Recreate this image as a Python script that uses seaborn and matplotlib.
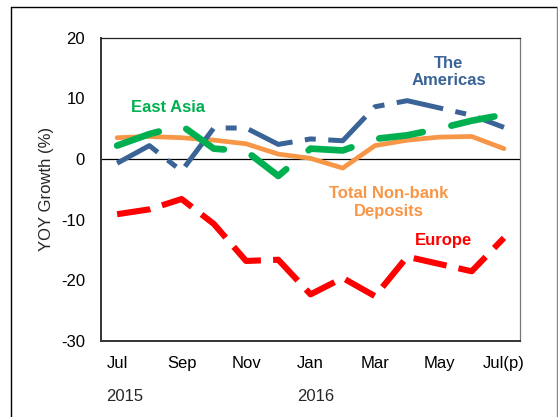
import numpy as np
import pandas as pd
import seaborn as sns
import matplotlib.pyplot as plt
from matplotlib.lines import Line2D

# Monthly YOY growth (%) by region, Jul 2015 - Jul 2016
months = ['Jul', 'Aug', 'Sep', 'Oct', 'Nov', 'Dec', 'Jan', 'Feb', 'Mar', 'Apr', 'May', 'Jun', 'Jul(p)']
total = [3.5, 3.7, 3.5, 3.1, 2.5, 0.8, 0.1, -1.5, 2.2, 3.1, 3.6, 3.7, 1.7]
americas = [-0.7, 2.2, -2.0, 5.1, 5.1, 2.4, 3.3, 3.0, 8.6, 9.6, 8.4, 7.2, 5.2]
east_asia = [2.2, 4.1, 5.5, 1.7, 1.3, -2.8, 1.7, 1.4, 3.3, 3.9, 5.0, 6.3, 7.3]
europe = [-9.1, -8.3, -6.6, -10.7, -16.8, -16.6, -22.3, -19.6, -22.6, -16.1, -17.3, -18.5, -13.0]
years = {'Jul': '2015', 'Jan': '2016'}

df = pd.DataFrame({'t': np.arange(len(months)), 'total': total, 'americas': americas,
                   'east_asia': east_asia, 'europe': europe})

sns.set_style('white')
plt.rcParams['font.family'] = ['Liberation Sans', 'DejaVu Sans']
plt.rcParams['axes.unicode_minus'] = False

fig = plt.figure(figsize=(5.58, 4.17), dpi=100)
ax = fig.add_axes([0.181, 0.182, 0.751, 0.728])

ax.axhline(0, color='black', lw=0.9, zorder=1)

sns.lineplot(data=df, x='t', y='total', ax=ax, color='#F79646', lw=3.4, zorder=2)
sns.lineplot(data=df, x='t', y='americas', ax=ax, color='#3A6397', lw=3.6,
             linestyle=(0, (9.5, 2.5, 2.2, 2.5)), zorder=3)
sns.lineplot(data=df, x='t', y='east_asia', ax=ax, color='#00B050', lw=4.8,
             linestyle=(0, (6.6, 4.4)), dash_capstyle='round', zorder=4)
sns.lineplot(data=df, x='t', y='europe', ax=ax, color='#FF0000', lw=4.4,
             linestyle=(0, (5.5, 2.0)), zorder=5)

ax.set_xlim(-0.5, 12.5)
ax.set_ylim(-30, 20)
ax.set_yticks([-30, -20, -10, 0, 10, 20])
ax.set_xticks(range(len(months)))
ax.set_xticklabels([m if i % 2 == 0 else '' for i, m in enumerate(months)])
ax.set_xlabel('')
ax.set_ylabel('')
ax.tick_params(axis='both', direction='inout', length=7, width=1, color='#333333',
               labelsize=12, labelcolor='black')
ax.tick_params(axis='y', pad=8)
ax.tick_params(axis='x', pad=7)

for side in ['left', 'bottom']:
    ax.spines[side].set_color('#333333')
    ax.spines[side].set_linewidth(1.4)
ax.spines['top'].set_color('#222222')
ax.spines['top'].set_linewidth(0.9)
ax.spines['right'].set_color('#777777')
ax.spines['right'].set_linewidth(0.9)

# series labels
ax.text(1.59, 8.5, 'East Asia', color='#00B050', fontsize=12, fontweight='bold',
        ha='center', va='center')
ax.text(10.29, 14.3, 'The\nAmericas', color='#3A6397', fontsize=12, fontweight='bold',
        ha='center', va='center')
ax.text(8.43, -7.2, 'Total Non-bank\nDeposits', color='#F79646', fontsize=12,
        fontweight='bold', ha='center', va='center')
ax.text(10.13, -13.4, 'Europe', color='#FF0000', fontsize=12, fontweight='bold',
        ha='center', va='center')

fig.text(46 / 558, 1 - 189 / 417, 'YOY Growth (%)', rotation=90, fontsize=12,
         ha='center', va='center')

# year labels, left-aligned under their month labels
fig.canvas.draw()
renderer = fig.canvas.get_renderer()
for lab in ax.get_xticklabels():
    if lab.get_text() in years:
        bb = lab.get_window_extent(renderer)
        fig.text(bb.x0 / fig.bbox.width, 1 - 401 / 417, years[lab.get_text()],
                 fontsize=12, ha='left', va='baseline')

# outer frame
fig.add_artist(Line2D([11 / 558, 11 / 558], [0, 1 - 7 / 417], color='black', lw=1))
fig.add_artist(Line2D([11 / 558, 557 / 558], [1 - 7 / 417, 1 - 7 / 417], color='black', lw=1))
fig.add_artist(Line2D([557 / 558, 557 / 558], [0, 1 - 7 / 417], color='#888888', lw=1))

fig.savefig('out.png', dpi=100)
